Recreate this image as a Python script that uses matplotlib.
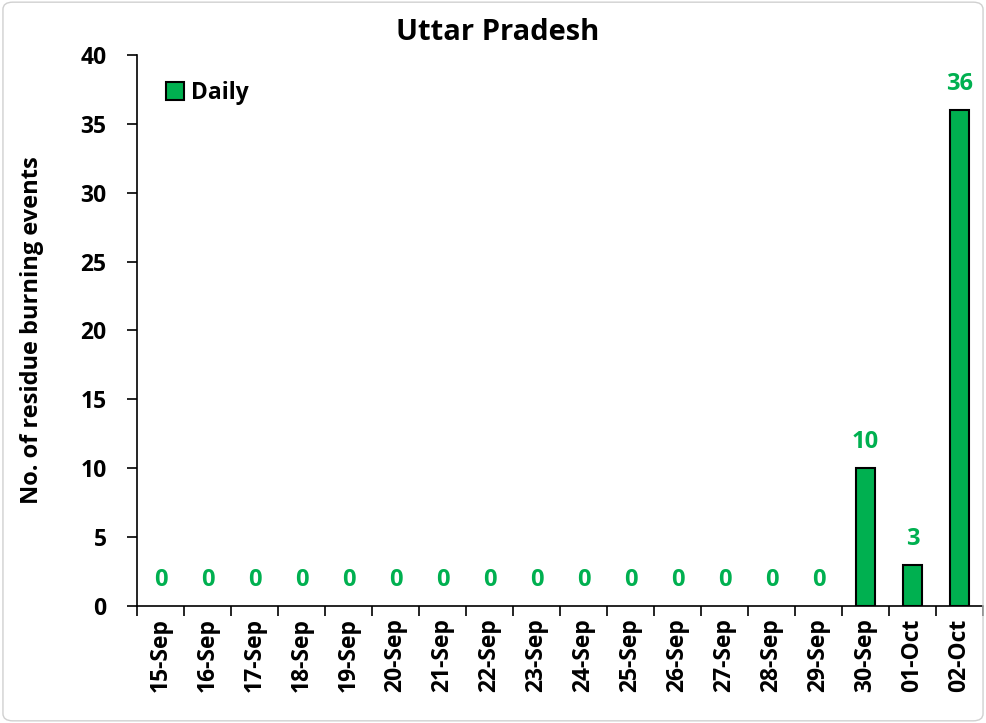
import numpy as np
import matplotlib.pyplot as plt
from matplotlib.patches import FancyBboxPatch, Patch

dates = ['15-Sep', '16-Sep', '17-Sep', '18-Sep', '19-Sep', '20-Sep', '21-Sep',
         '22-Sep', '23-Sep', '24-Sep', '25-Sep', '26-Sep', '27-Sep', '28-Sep',
         '29-Sep', '30-Sep', '01-Oct', '02-Oct']
daily = [0, 0, 0, 0, 0, 0, 0, 0, 0, 0, 0, 0, 0, 0, 0, 10, 3, 36]

green = '#00B050'
plt.rcParams['font.family'] = ['Open Sans', 'DejaVu Sans']
plt.rcParams['font.weight'] = 'bold'

fig = plt.figure(figsize=(9.86, 7.23), dpi=100)
ax = fig.add_axes([0.139, 0.162, 0.858, 0.762])

x = np.arange(len(dates))
bars = ax.bar(x, daily, width=0.4, color=green, edgecolor='black', linewidth=1.5, zorder=3)
for b, v in zip(bars, daily):
    if v == 0:
        b.set_linewidth(0)
for xi, v in zip(x, daily):
    ax.text(xi, v + 1.0, str(v), ha='center', va='bottom', color=green,
            fontsize=17, fontweight='bold')

ax.set_xlim(-0.5, len(dates) - 0.5)
ax.set_ylim(0, 40)
ax.set_yticks(range(0, 41, 5))
ax.set_xticks(x)
ax.set_xticklabels(dates, rotation=90, fontsize=16.5, fontweight='bold')
ax.tick_params(axis='x', length=0, pad=9)
ax.set_xticks(np.arange(-0.5, len(dates), 1), minor=True)
ax.tick_params(axis='x', which='minor', length=7, width=1.2, direction='out')
ax.tick_params(axis='y', labelsize=16.5, length=7, width=1.2, direction='out', pad=15)
for lbl in ax.get_yticklabels():
    lbl.set_fontweight('bold')

ax.spines['top'].set_visible(False)
ax.spines['right'].set_visible(False)
ax.spines['left'].set_linewidth(1.2)
ax.spines['bottom'].set_linewidth(1.2)

ax.set_ylabel('No. of residue burning events', fontsize=17, fontweight='bold', labelpad=26)
fig.text(0.505, 0.955, 'Uttar Pradesh', ha='center', va='center', fontsize=21, fontweight='bold')

handle = Patch(facecolor=green, edgecolor='black', linewidth=1.5, label='Daily')
ax.legend(handles=[handle], loc='upper left', frameon=False, fontsize=16.5, handlelength=0.8,
          handleheight=0.8, handletextpad=0.3, bbox_to_anchor=(0.01, 0.99))

border = FancyBboxPatch((0.003, 0.003), 0.994, 0.994, boxstyle='round,pad=0,rounding_size=0.01',
                        transform=fig.transFigure, fill=False, edgecolor='#d0d0d0', linewidth=1)
fig.patches.append(border)

fig.savefig('out.png', dpi=100)
